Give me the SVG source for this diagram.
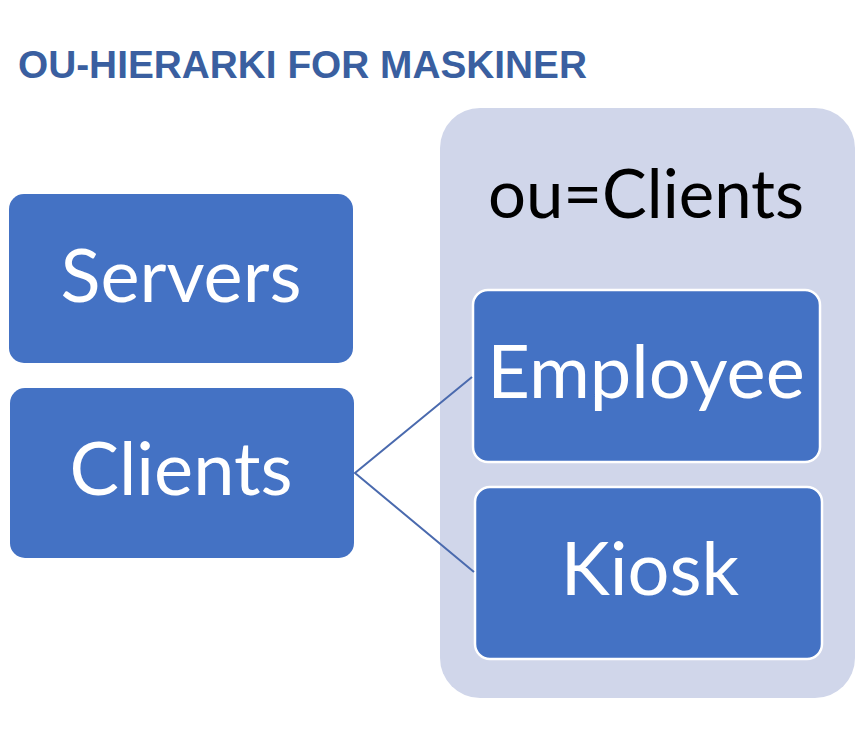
<svg xmlns="http://www.w3.org/2000/svg" width="864" height="754" viewBox="0 0 864 754">
<style>
.title{font-family:"Liberation Sans",Arial,sans-serif;font-weight:bold;font-size:39px;fill:#3A5FA0}
.box{fill:#4472C4}
.inner{fill:#4472C4;stroke:#FFFFFF;stroke-width:2.5}
.lbl{font-family:Lato,"Open Sans",sans-serif;font-size:74px;fill:#FFFFFF;text-anchor:middle}
.olbl{font-family:Lato,"Open Sans",sans-serif;font-size:67px;fill:#000000;text-anchor:middle}
.conn{stroke:#4A6AAE;stroke-width:2;fill:none}
</style>
<rect width="864" height="754" fill="#FFFFFF"/>
<text class="title" x="18" y="78" textLength="569" lengthAdjust="spacingAndGlyphs">OU-HIERARKI FOR MASKINER</text>
<g id="ou-clients">
<rect x="440" y="108" width="415" height="590" rx="40" fill="#D0D6EA"/>
<text class="olbl" x="646" y="218">ou=Clients</text>
</g>
<g id="servers">
<rect class="box" x="9" y="194" width="344" height="169" rx="15"/>
<text class="lbl" x="181" y="302">Servers</text>
</g>
<g id="clients">
<rect class="box" x="10" y="388" width="344" height="170" rx="15"/>
<text class="lbl" x="181" y="495">Clients</text>
</g>
<g id="employee">
<rect class="inner" x="473" y="290" width="347" height="172" rx="15"/>
<text class="lbl" x="646" y="398">Employee</text>
</g>
<g id="kiosk">
<rect class="inner" x="475" y="487" width="347" height="172" rx="15"/>
<text class="lbl" x="650" y="595">Kiosk</text>
</g>
<g id="connectors">
<polyline class="conn" points="472,377 355,473 474,572"/>
</g>
</svg>
